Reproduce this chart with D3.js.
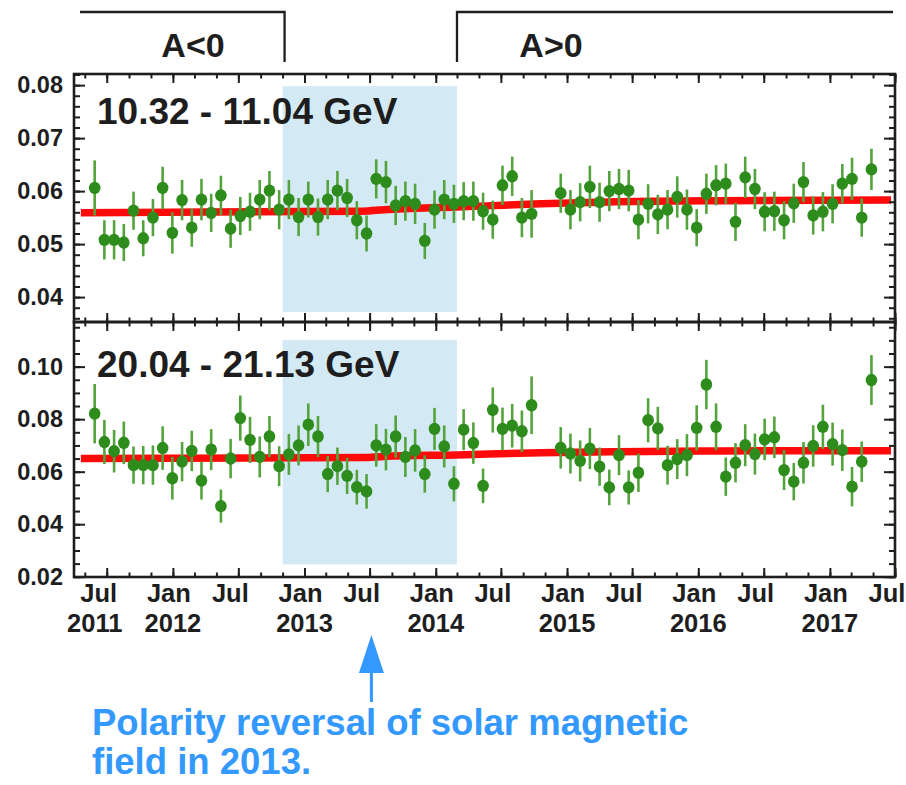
<!DOCTYPE html>
<html>
<head>
<meta charset="utf-8">
<script src="https://cdn.jsdelivr.net/npm/d3@7"></script>
<style>
  body { margin: 0; background: #fff; }
  text { font-family: "Liberation Sans", Arial, Helvetica, sans-serif; font-weight: bold; }
</style>
</head>
<body>
<svg id="chart" width="906" height="785"></svg>
<script>
// Bartels rotation of each point (no data for 2472 and 2473)
const rotations = [
  2426, 2427, 2428, 2429, 2430, 2431, 2432, 2433, 2434, 2435,
  2436, 2437, 2438, 2439, 2440, 2441, 2442, 2443, 2444, 2445,
  2446, 2447, 2448, 2449, 2450, 2451, 2452, 2453, 2454, 2455,
  2456, 2457, 2458, 2459, 2460, 2461, 2462, 2463, 2464, 2465,
  2466, 2467, 2468, 2469, 2470, 2471,
  2474, 2475, 2476, 2477, 2478, 2479, 2480, 2481, 2482, 2483,
  2484, 2485, 2486, 2487, 2488, 2489, 2490, 2491, 2492, 2493,
  2494, 2495, 2496, 2497, 2498, 2499, 2500, 2501, 2502, 2503,
  2504, 2505, 2506
];

// 10.32 - 11.04 GeV
const lowLabel = "10.32 - 11.04 GeV";
const lowFlux = [
  0.0606, 0.0508, 0.0508, 0.0503, 0.0563, 0.0511, 0.0550, 0.0606, 0.0521, 0.0583,
  0.0531, 0.0584, 0.0559, 0.0592, 0.0529, 0.0553, 0.0561, 0.0584, 0.0601, 0.0565,
  0.0584, 0.0551, 0.0584, 0.0551, 0.0584, 0.0601, 0.0587, 0.0545, 0.0520, 0.0623,
  0.0617, 0.0573, 0.0581, 0.0576, 0.0506, 0.0565, 0.0584, 0.0576, 0.0581, 0.0581,
  0.0562, 0.0546, 0.0611, 0.0628, 0.0550, 0.0557,
  0.0596, 0.0565, 0.0579, 0.0608, 0.0579, 0.0600, 0.0604, 0.0601, 0.0546, 0.0576,
  0.0556, 0.0565, 0.0589, 0.0565, 0.0531, 0.0595, 0.0611, 0.0614, 0.0542, 0.0626,
  0.0604, 0.0561, 0.0562, 0.0545, 0.0577, 0.0617, 0.0554, 0.0561, 0.0576, 0.0614,
  0.0623, 0.0550, 0.0641
];
const lowErr = [
  0.0052, 0.0037, 0.0037, 0.0035, 0.0036, 0.0034, 0.0035, 0.0040, 0.0039, 0.0038,
  0.0036, 0.0039, 0.0036, 0.0037, 0.0036, 0.0036, 0.0036, 0.0037, 0.0037, 0.0037,
  0.0037, 0.0036, 0.0034, 0.0035, 0.0037, 0.0037, 0.0036, 0.0036, 0.0034, 0.0037,
  0.0040, 0.0037, 0.0037, 0.0038, 0.0034, 0.0036, 0.0037, 0.0036, 0.0036, 0.0037,
  0.0035, 0.0036, 0.0037, 0.0037, 0.0037, 0.0045,
  0.0037, 0.0037, 0.0036, 0.0040, 0.0037, 0.0038, 0.0038, 0.0039, 0.0037, 0.0037,
  0.0037, 0.0037, 0.0039, 0.0038, 0.0035, 0.0038, 0.0038, 0.0038, 0.0036, 0.0039,
  0.0038, 0.0037, 0.0037, 0.0036, 0.0037, 0.0038, 0.0036, 0.0037, 0.0037, 0.0037,
  0.0040, 0.0036, 0.0039
];

// 20.04 - 21.13 GeV
const highLabel = "20.04 - 21.13 GeV";
const highFlux = [
  0.0821, 0.0713, 0.0678, 0.0710, 0.0625, 0.0625, 0.0625, 0.0690, 0.0575, 0.0638,
  0.0679, 0.0566, 0.0684, 0.0469, 0.0650, 0.0804, 0.0721, 0.0656, 0.0734, 0.0621,
  0.0666, 0.0700, 0.0779, 0.0734, 0.0591, 0.0621, 0.0584, 0.0541, 0.0525, 0.0700,
  0.0684, 0.0734, 0.0656, 0.0681, 0.0591, 0.0763, 0.0696, 0.0554, 0.0760, 0.0709,
  0.0546, 0.0835, 0.0763, 0.0775, 0.0754, 0.0853,
  0.0691, 0.0669, 0.0641, 0.0688, 0.0619, 0.0540, 0.0663, 0.0540, 0.0596, 0.0796,
  0.0765, 0.0625, 0.0648, 0.0663, 0.0767, 0.0932, 0.0771, 0.0581, 0.0634, 0.0701,
  0.0667, 0.0723, 0.0731, 0.0606, 0.0562, 0.0634, 0.0698, 0.0771, 0.0705, 0.0682,
  0.0543, 0.0638, 0.0949
];
const highErr = [
  0.0113, 0.0084, 0.0081, 0.0081, 0.0071, 0.0073, 0.0075, 0.0083, 0.0081, 0.0075,
  0.0077, 0.0072, 0.0078, 0.0063, 0.0075, 0.0086, 0.0088, 0.0078, 0.0078, 0.0076,
  0.0078, 0.0076, 0.0081, 0.0078, 0.0069, 0.0071, 0.0069, 0.0066, 0.0066, 0.0081,
  0.0079, 0.0080, 0.0076, 0.0081, 0.0071, 0.0080, 0.0080, 0.0067, 0.0078, 0.0079,
  0.0066, 0.0086, 0.0081, 0.0083, 0.0079, 0.0110,
  0.0079, 0.0076, 0.0078, 0.0078, 0.0073, 0.0068, 0.0076, 0.0065, 0.0073, 0.0084,
  0.0082, 0.0074, 0.0076, 0.0080, 0.0086, 0.0094, 0.0089, 0.0073, 0.0075, 0.0080,
  0.0078, 0.0079, 0.0079, 0.0076, 0.0071, 0.0079, 0.0079, 0.0084, 0.0082, 0.0079,
  0.0075, 0.0077, 0.0095
];

// red fit curves
const fitDates = ["2011-04-20", "2013-06-10", "2013-08-10", "2014-03-01", "2014-10-20", "2015-05-20", "2016-03-01", "2017-06-20"];
const lowFit  = [0.0559, 0.0562, 0.0565, 0.0570, 0.0576, 0.0580, 0.0582, 0.0583];
const highFit = [0.0650, 0.0654, 0.0658, 0.0664, 0.0672, 0.0676, 0.0679, 0.0680];

// reversal period shading
const shadeDates = ["2012-11-01", "2014-03-01"];
const lowShade = [0.0372, 0.0798];
const highShade = [0.0247, 0.1101];

// y ticks
const lowTicks = [0.04, 0.05, 0.06, 0.07, 0.08];
const highTicks = [0.02, 0.04, 0.06, 0.08, 0.10];

// x tick labels
const xTickDates = ["2011-07-01", "2012-01-01", "2012-07-01", "2013-01-01", "2013-07-01", "2014-01-01", "2014-07-01",
                    "2015-01-01", "2015-07-01", "2016-01-01", "2016-07-01", "2017-01-01", "2017-07-01"];
const monthLabels = ["Jul", "Jan", "Jul", "Jan", "Jul", "Jan", "Jul", "Jan", "Jul", "Jan", "Jul", "Jan", "Jul"];
const yearLabels = ["2011", "2012", "", "2013", "", "2014", "", "2015", "", "2016", "", "2017", ""];

const W = 906, H = 785;
const plotLeft = 74, plotRight = 895;
const ink = "#1e1e1e";
const svg = d3.select("#chart");
svg.append("rect").attr("width", W).attr("height", H).attr("fill", "#fff");

const parse = d3.utcParse("%Y-%m-%d");
const x = d3.scaleUtc()
    .domain([parse("2011-04-01"), parse("2017-07-01")])
    .range([plotLeft, plotRight]);

// middle of a 27-day Bartels rotation, BR 2426 starts 2011-05-15
const rotationStart = parse("2011-05-15");
const rotationDate = (br) => new Date(+rotationStart + ((br - 2426) * 27 + 13.5) * 864e5);

const panels = [
    {label: lowLabel, flux: lowFlux, err: lowErr, fit: lowFit, shade: lowShade,
     ticks: lowTicks, minorStep: 0.002, domain: [0.0353, 0.0821], top: 74, bottom: 322, labelY: 124},
    {label: highLabel, flux: highFlux, err: highErr, fit: highFit, shade: highShade,
     ticks: highTicks, minorStep: 0.005, domain: [0.0199, 0.117], top: 322, bottom: 577, labelY: 377}
];

const majorX = xTickDates.map(parse);
const minorX = x.ticks(d3.utcMonth.every(2));

function styleAxis(sel) {
    sel.select(".domain").remove();
    sel.selectAll(".tick line").attr("stroke", ink).attr("stroke-width", 2);
    sel.attr("font-family", null).attr("font-size", null);
}

panels.forEach((p) => {
    const y = d3.scaleLinear().domain(p.domain).range([p.bottom, p.top]);
    const g = svg.append("g");

    // shaded period of the polarity reversal
    g.append("rect")
        .attr("x", x(parse(shadeDates[0])))
        .attr("width", x(parse(shadeDates[1])) - x(parse(shadeDates[0])))
        .attr("y", y(p.shade[1]))
        .attr("height", y(p.shade[0]) - y(p.shade[1]))
        .attr("fill", "#d3eaf5");

    // fit curve
    const fitLine = d3.line()
        .x((d, i) => x(parse(fitDates[i])))
        .y(d => y(d))
        .curve(d3.curveMonotoneX);
    g.append("path")
        .datum(p.fit)
        .attr("d", fitLine)
        .attr("fill", "none")
        .attr("stroke", "#ff0a0a")
        .attr("stroke-width", 7.5);

    const pts = rotations.map((br, i) => ({date: rotationDate(br), v: p.flux[i], e: p.err[i]}));

    // error bars
    g.selectAll(".err")
        .data(pts)
        .enter()
        .append("line")
        .attr("x1", d => x(d.date))
        .attr("x2", d => x(d.date))
        .attr("y1", d => y(d.v + d.e))
        .attr("y2", d => y(d.v - d.e))
        .attr("stroke", "#55a33d")
        .attr("stroke-width", 2.6);

    // points
    g.selectAll(".pt")
        .data(pts)
        .enter()
        .append("ellipse")
        .attr("cx", d => x(d.date))
        .attr("cy", d => y(d.v))
        .attr("rx", 5.8)
        .attr("ry", 6.2)
        .attr("fill", "#2d8c1c");

    // frame
    g.append("rect")
        .attr("x", plotLeft)
        .attr("y", p.top)
        .attr("width", plotRight - plotLeft)
        .attr("height", p.bottom - p.top)
        .attr("fill", "none")
        .attr("stroke", ink)
        .attr("stroke-width", 2.6);

    // y axes, ticks pointing inward
    const [lo, hi] = p.domain;
    const minorY = d3.range(Math.ceil(lo / p.minorStep), Math.floor(hi / p.minorStep) + 1).map(k => k * p.minorStep);

    g.append("g")
        .attr("transform", `translate(${plotLeft},0)`)
        .call(d3.axisLeft(y).tickValues(p.ticks).tickSize(-11).tickPadding(11).tickFormat(d3.format(".2f")))
        .call(styleAxis)
        .selectAll("text")
        .attr("fill", ink)
        .style("font-size", "23.5px");
    g.append("g")
        .attr("transform", `translate(${plotLeft},0)`)
        .call(d3.axisLeft(y).tickValues(minorY).tickSize(-6).tickFormat(""))
        .call(styleAxis);
    g.append("g")
        .attr("transform", `translate(${plotRight},0)`)
        .call(d3.axisRight(y).tickValues(p.ticks).tickSize(-11).tickFormat(""))
        .call(styleAxis);
    g.append("g")
        .attr("transform", `translate(${plotRight},0)`)
        .call(d3.axisRight(y).tickValues(minorY).tickSize(-6).tickFormat(""))
        .call(styleAxis);

    // x ticks on top and bottom edges
    [[d3.axisTop, p.top], [d3.axisBottom, p.bottom]].forEach(([axis, yPos]) => {
        g.append("g")
            .attr("transform", `translate(0,${yPos})`)
            .call(axis(x).tickValues(majorX).tickSize(-9).tickFormat(""))
            .call(styleAxis);
        g.append("g")
            .attr("transform", `translate(0,${yPos})`)
            .call(axis(x).tickValues(minorX).tickSize(-4.5).tickFormat(""))
            .call(styleAxis);
    });

    // energy bin label
    g.append("text")
        .attr("x", 97)
        .attr("y", p.labelY)
        .attr("fill", ink)
        .style("font-size", "37px")
        .text(p.label);
});

// date labels under the lower panel
const xl = svg.append("g").attr("fill", ink).attr("text-anchor", "middle").style("font-size", "25.5px");
xl.selectAll(".m")
    .data(majorX)
    .enter()
    .append("text")
    .attr("x", (d, i) => x(d) - (monthLabels[i] === "Jul" ? 8 : 4))
    .attr("y", 602)
    .text((d, i) => monthLabels[i]);
xl.selectAll(".yr")
    .data(majorX)
    .enter()
    .append("text")
    .attr("x", (d, i) => x(d) - (i === 0 ? 12 : 0))
    .attr("y", 632)
    .text((d, i) => yearLabels[i]);

// A<0 / A>0 brackets above the plot
const xs0 = x(parse(shadeDates[0])) + 2;
const xs1 = x(parse(shadeDates[1]));
svg.append("path")
    .attr("d", `M80,12H${xs0}V62M${xs1},62V12H893`)
    .attr("fill", "none")
    .attr("stroke", ink)
    .attr("stroke-width", 2.3);
svg.append("text").attr("x", 193).attr("y", 57).attr("text-anchor", "middle")
    .attr("fill", ink).style("font-size", "34px").text("A<0");
svg.append("text").attr("x", 551).attr("y", 57).attr("text-anchor", "middle")
    .attr("fill", ink).style("font-size", "34px").text("A>0");

// annotation arrow and text
const blue = "#3399ff";
const ax = x(parse("2013-07-06"));
svg.append("line")
    .attr("x1", ax).attr("x2", ax)
    .attr("y1", 670).attr("y2", 702)
    .attr("stroke", blue).attr("stroke-width", 3);
svg.append("path")
    .attr("d", `M${ax},635L${ax - 12.5},673H${ax + 12.5}Z`)
    .attr("fill", blue);
const note = svg.append("text").attr("fill", blue).style("font-size", "36.5px");
note.append("tspan").attr("x", 92).attr("y", 735).text("Polarity reversal of solar magnetic");
note.append("tspan").attr("x", 92).attr("y", 774).text("field in 2013.");
</script>
</body>
</html>
